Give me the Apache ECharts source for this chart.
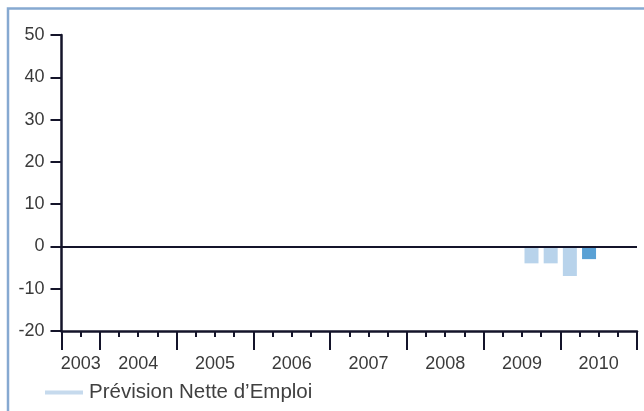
<!DOCTYPE html>
<html>
<head>
<meta charset="utf-8">
<style>
  html, body { margin: 0; padding: 0; background: #ffffff; }
  #chart { width: 644px; height: 411px; }
</style>
<script src="https://cdn.jsdelivr.net/npm/echarts@6/dist/echarts.min.js"></script>
</head>
<body>
<div id="chart"></div>
<script>
// ---- data ----
const years = ['2003', '2004', '2005', '2006', '2007', '2008', '2009', '2010'];
const quartersPerYear = [2, 4, 4, 4, 4, 4, 4, 4];
const firstQuarterOfFirstYear = 3; // axis starts at 2003 Q3
const forecastYears = [2009, 2009, 2010, 2010];
const forecastQuarters = [3, 4, 1, 2];
const forecastValues = [-4, -4, -7, -3];
const forecastLatest = [false, false, false, true];
const yTicks = [-20, -10, 0, 10, 20, 30, 40, 50];
const seriesName = 'Prévision Nette d\u2019Emploi';

// ---- derived positions on quarter index axis ----
const yearStart = [];
let acc = 0;
quartersPerYear.forEach(q => { yearStart.push(acc); acc += q; });
const totalQuarters = acc;
const yearBoundaries = yearStart.concat([totalQuarters]);
const yearMid = yearStart.map((s, i) => s + quartersPerYear[i] / 2);
const quarterTicks = Array.from({length: totalQuarters + 1}, (_, i) => i);

function quarterIndex(year, q) {
  const yi = years.indexOf(String(year));
  const offset = yi === 0 ? q - firstQuarterOfFirstYear : q - 1;
  return yearStart[yi] + offset;
}

const LIGHT = '#b8d3eb';
const DARK = '#5aa1d5';
const AXIS = '#14142a';
const TEXT = '#3a3a3a';
const FONT = 'Liberation Sans, Arial, sans-serif';

const barData = forecastValues.map((v, i) => ({
  value: [quarterIndex(forecastYears[i], forecastQuarters[i]) + 0.5, v],
  itemStyle: { color: forecastLatest[i] ? DARK : LIGHT }
}));

const chart = echarts.init(document.getElementById('chart'), null, { renderer: 'canvas' });
chart.setOption({
  animation: false,
  backgroundColor: '#ffffff',
  textStyle: { fontFamily: FONT },
  graphic: [{
    type: 'rect',
    shape: { x: 8, y: 8.5, width: 700, height: 500 },
    style: { fill: 'none', stroke: '#86a9d1', lineWidth: 2.5 },
    z: 0
  }],
  grid: { left: 61.5, right: 7, top: 35, bottom: 80, containLabel: false },
  legend: {
    left: 40, top: 377,
    itemWidth: 38, itemHeight: 4, itemGap: 10,
    textStyle: { fontSize: 20.5, color: '#404040', fontFamily: FONT, padding: [0, 0, 0, 1] },
    data: [{ name: seriesName, icon: 'rect', itemStyle: { color: '#c6daed' } }]
  },
  xAxis: [{
    type: 'value', min: 0, max: totalQuarters, interval: 1,
    position: 'bottom',
    axisLine: { show: true, onZero: false, lineStyle: { color: AXIS, width: 2.5 } },
    axisTick: { show: true, length: 6, lineStyle: { color: AXIS, width: 2 }, customValues: quarterTicks },
    axisLabel: { show: false },
    splitLine: { show: false }
  }, {
    type: 'value', min: 0, max: totalQuarters,
    position: 'bottom',
    axisLine: { show: false, onZero: false },
    axisTick: { show: true, length: 19, lineStyle: { color: AXIS, width: 2 }, customValues: yearBoundaries },
    axisLabel: {
      show: true, margin: 24, fontSize: 18, color: TEXT,
      customValues: yearMid,
      formatter: function (val) {
        const i = yearMid.findIndex(m => Math.abs(m - val) < 1e-6);
        return i >= 0 ? years[i] : '';
      }
    },
    splitLine: { show: false }
  }],
  yAxis: {
    type: 'value', min: yTicks[0], max: yTicks[yTicks.length - 1], interval: 10,
    axisLine: { show: true, onZero: false, lineStyle: { color: AXIS, width: 2.5 } },
    axisTick: { show: true, length: 11, lineStyle: { color: AXIS, width: 2 } },
    axisLabel: { margin: 17, fontSize: 18, color: TEXT },
    splitLine: { show: false }
  },
  series: [{
    name: seriesName,
    type: 'bar',
    xAxisIndex: 0,
    barWidth: 14,
    itemStyle: { color: LIGHT },
    data: barData,
    markLine: {
      silent: true,
      symbol: 'none',
      label: { show: false },
      lineStyle: { color: AXIS, width: 2, type: 'solid' },
      data: [{ yAxis: 0 }]
    }
  }]
});
</script>
</body>
</html>
